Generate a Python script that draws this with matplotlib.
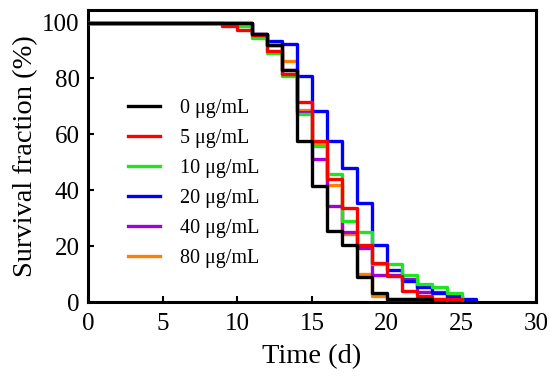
import matplotlib
matplotlib.use("Agg")
import matplotlib.pyplot as plt

plt.rcParams["font.family"] = ["Liberation Serif", "DejaVu Serif"]

labels = ["0 μg/mL", "5 μg/mL", "10 μg/mL", "20 μg/mL", "40 μg/mL", "80 μg/mL"]
colors = ["black", "#ff0000", "#1ee61e", "#0000ff", "#a000dc", "#ff8000"]

# day of each step and survival (%) from that day on
t_0 = [0, 11, 12, 13, 14, 15, 16, 17, 18, 19, 20, 23]
s_0 = [100, 96, 92, 83, 57.5, 41.5, 25.5, 20.5, 9, 3.3, 1.1, 0]

t_5 = [0, 9, 10, 11, 12, 13, 14, 15, 16, 17, 18, 19, 20, 21, 22, 23, 25]
s_5 = [100, 98.6, 97.4, 95.4, 89.8, 81.5, 71.4, 57.6, 44, 33.8, 20.3, 13.9, 9.2, 4, 2.2, 1.1, 0]

t_10 = [0, 10, 11, 12, 13, 14, 15, 16, 17, 18, 19, 21, 22, 23, 24, 25]
s_10 = [100, 98.6, 94.6, 89, 80.8, 67.3, 55.8, 46, 29.2, 25, 13.6, 9.7, 6.5, 5.4, 3.2, 0]

t_20 = [0, 11, 12, 13, 14, 15, 16, 17, 18, 19, 20, 21, 22, 23, 24, 25, 26]
s_20 = [100, 96, 93.4, 92.2, 80.7, 68.4, 57.6, 48.1, 35.6, 20.5, 11.5, 7.5, 5.5, 3.3, 2.2, 1.1, 0]

t_40 = [0, 11, 12, 13, 14, 15, 16, 17, 18, 19, 21, 22, 24]
s_40 = [100, 96, 92, 83, 68, 51.2, 34.5, 25, 19.2, 9.8, 8.2, 3.7, 0]

t_80 = [0, 11, 12, 13, 14, 15, 16, 17, 18, 19, 20, 24]
s_80 = [100, 96, 92, 86.2, 68.8, 56.6, 42, 24.2, 10, 2.2, 1.1, 0]

times = [t_0, t_5, t_10, t_20, t_40, t_80]
surv = [s_0, s_5, s_10, s_20, s_40, s_80]

fig = plt.figure(figsize=(5.5, 3.82), dpi=100)
ax = fig.add_axes([0.16, 0.209, 0.815, 0.765])

for i in range(len(labels)):
    ax.step(times[i], surv[i], where="post", color=colors[i], lw=2.4,
            label=labels[i], zorder=10 - i)

ax.set_xlim(0, 30)
ax.set_ylim(0, 104.5)
ax.set_xticks(range(0, 31, 5))
ax.set_yticks(range(0, 101, 20))
ax.tick_params(direction="in", length=4, width=1.5, labelsize=18, pad=6)
ax.tick_params(axis="x", pad=8)
for sp in ax.spines.values():
    sp.set_linewidth(2.2)

ax.set_xlabel("Time (d)", fontsize=20.5, labelpad=6)
ax.set_ylabel("Survival fraction (%)", fontsize=20.5, labelpad=3)

ax.legend(loc="upper left", bbox_to_anchor=(0.09, 0.695), frameon=False,
          fontsize=14.5, handlelength=1.55, handletextpad=1.0,
          labelspacing=0.54, borderpad=0, borderaxespad=0)

fig.savefig("out.png", dpi=100)
